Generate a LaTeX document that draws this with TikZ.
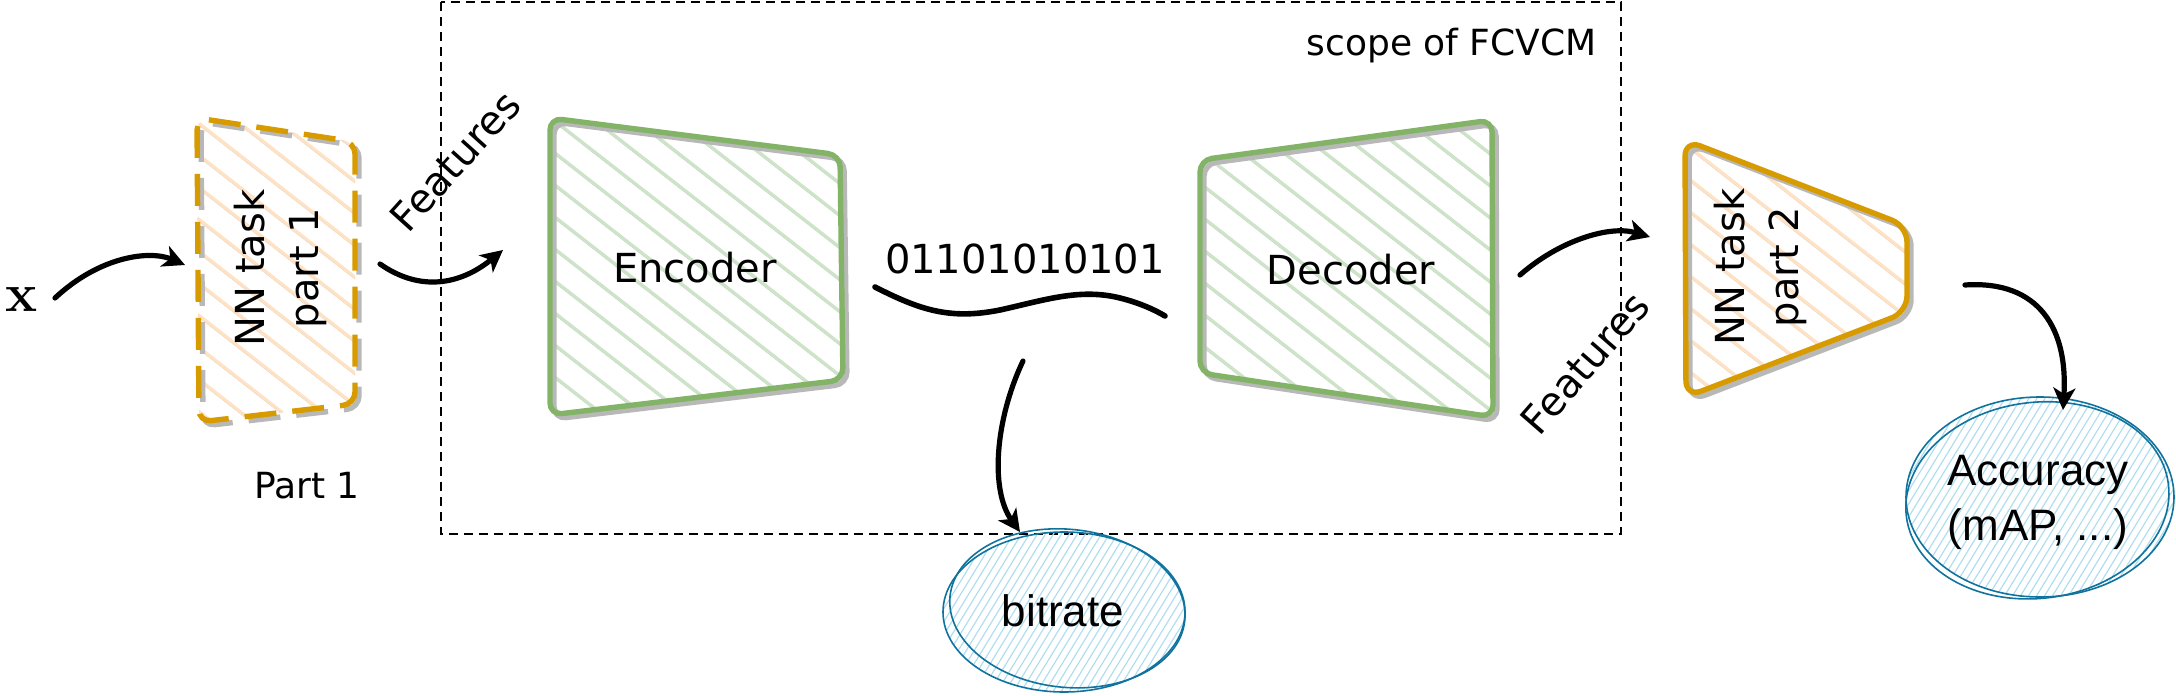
\documentclass[tikz,border=0pt]{standalone}
\usepackage{fontspec}
\newfontfamily\labelfont{DejaVu Sans}
\newfontfamily\ellfont{Liberation Sans}
\usetikzlibrary{arrows.meta,positioning}

\definecolor{encgreen}{RGB}{130,179,102}
\definecolor{encfill}{RGB}{205,228,200}
\definecolor{nnorange}{RGB}{215,155,0}
\definecolor{nnfill}{RGB}{255,225,195}
\definecolor{ellblue}{RGB}{16,115,158}
\definecolor{ellfill}{RGB}{177,221,240}
\definecolor{shadowgray}{RGB}{184,184,184}

\tikzset{
  lbl/.style={font=\labelfont\fontsize{20}{27}\selectfont, inner sep=0pt, align=center},
  smalllbl/.style={font=\labelfont\fontsize{18}{22}\selectfont, inner sep=0pt},
  elllbl/.style={font=\ellfont\fontsize{22}{27.5}\selectfont, inner sep=0pt, align=center},
  flow/.style={line width=2.6pt, line cap=round, -{Stealth[length=11pt,width=11pt,inset=3pt]}},
  boxshadow/.style={draw=shadowgray, line width=2.7pt, rounded corners=6pt},
  hatchshadow/.style={draw=shadowgray!85, line width=1pt},
  ellstroke/.style={draw=ellblue, line width=0.8pt},
}

% hatching of a box: #1 clip path, #2 colour, #3/#4 start of the first line
\newcommand{\hatchbox}[4]{%
  \begin{scope}
    \clip #1;
    \foreach \s in {-420,-379,...,320}
      {\draw[hatchshadow] (#3+\s+4,#4+4) -- ++(420,328);
       \draw[draw=#2, line width=1.6pt] (#3+\s,#4) -- ++(420,328);}
  \end{scope}}

\begin{document}
\begin{tikzpicture}[x=0.5pt,y=0.5pt,yscale=-1,xscale=1]
\useasboundingbox (0,0) rectangle (2176,696);

%Scope of FCVCM
\draw[line width=0.8pt, dash pattern=on 4.5pt off 3pt] (441,2) rectangle (1621,534);
\node[smalllbl, anchor=base east] (scopelbl) at (1597,55) {scope of FCVCM};

%NN task part 1
\hatchbox{[rounded corners=6pt] (197,118) -- (355,142) -- (355,404) -- (199,422) -- cycle}{nnfill}{197}{114}
\draw[boxshadow, dash pattern=on 16pt off 8pt] (201,122) -- (359,146) -- (359,408) -- (203,426) -- cycle;
\draw[draw=nnorange, line width=2.7pt, rounded corners=6pt, dash pattern=on 16pt off 8pt] (197,118) -- (355,142) -- (355,404) -- (199,422) -- cycle;
\node[lbl, rotate=90] (nn1) at (280,268) {NN task\\part 1};
\node[smalllbl] (part1) at (307,486) {Part 1};

%Encoder
\hatchbox{[rounded corners=6pt] (550,118) -- (840,155) -- (843,380) -- (550,415) -- cycle}{encfill}{556}{114}
\draw[boxshadow] (554,122) -- (844,159) -- (847,384) -- (554,419) -- cycle;
\draw[draw=encgreen, line width=2.7pt, rounded corners=6pt] (550,118) -- (840,155) -- (843,380) -- (550,415) -- cycle;
\node[lbl] (enc) at (695,268) {Encoder};

%Decoder
\hatchbox{[rounded corners=6pt] (1200,160) -- (1492,120) -- (1493,417) -- (1200,373) -- cycle}{encfill}{1206}{116}
\draw[boxshadow] (1204,164) -- (1496,124) -- (1497,421) -- (1204,377) -- cycle;
\draw[draw=encgreen, line width=2.7pt, rounded corners=6pt] (1200,160) -- (1492,120) -- (1493,417) -- (1200,373) -- cycle;
\node[lbl] (dec) at (1351,270) {Decoder};

%NN task part 2
\hatchbox{[rounded corners=8pt] (1685,140) -- (1907,226) -- (1907,312) -- (1686,397) -- cycle}{nnfill}{1685}{136}
\draw[boxshadow, rounded corners=8pt] (1689,144) -- (1911,230) -- (1911,316) -- (1690,401) -- cycle;
\draw[draw=nnorange, line width=2.7pt, rounded corners=8pt] (1685,140) -- (1907,226) -- (1907,312) -- (1686,397) -- cycle;
\node[lbl, rotate=90] (nn2) at (1760,267) {NN task\\part 2};

%Bit string
\node[lbl] (bits) at (1025,259) {01101010101};
\draw[line width=2.8pt, line cap=round] (875,287) .. controls (920,310) and (950,320) .. (1000,310) .. controls (1045,300) and (1080,288) .. (1120,298) .. controls (1140,303) and (1155,310) .. (1165,316);

%bitrate
\begin{scope}
  \clip (1064,612) ellipse [x radius=121, y radius=80];
  \foreach \s in {-240,-232,...,130}
    \draw[ellfill, line width=0.6pt] (1064+\s,700) -- ++(110,-180);
\end{scope}
\draw[ellstroke] (1064,612) ellipse [x radius=121, y radius=80];
\draw[ellstroke, rotate around={6:(1064,612)}] (1067,608) ellipse [x radius=118, y radius=79];
\node[elllbl] (bitrate) at (1063,611) {bitrate};

%Accuracy
\begin{scope}
  \clip (2040,497) ellipse [x radius=134, y radius=100];
  \foreach \s in {-270,-262,...,140}
    \draw[ellfill, line width=0.6pt] (2040+\s,600) -- ++(125,-205);
\end{scope}
\draw[ellstroke] (2040,497) ellipse [x radius=134, y radius=100];
\draw[ellstroke, rotate around={-7:(2040,497)}] (2037,500) ellipse [x radius=132, y radius=98];
\node[elllbl] (acc) at (2038,502) {Accuracy\\(mAP, ...)};

%Input
\node[font=\fontsize{27}{30}\selectfont\bfseries, inner sep=0pt] (xin) at (22,300) {x};

%Features labels
\node[lbl, rotate=48] (feat1) at (455,161) {Features};
\node[lbl, rotate=49] (feat2) at (1585,363) {Features};

%Connectors
\coordinate (xtail) at (55,298);
\coordinate (nn1in) at (185,265);
\coordinate (nn1out) at (380,264);
\coordinate (encin) at (503,250);
\coordinate (decout) at (1520,275);
\coordinate (nn2in) at (1650,237);
\coordinate (nn2out) at (1965,285);
\coordinate (accin) at (2063,410);
\coordinate (bitsout) at (1023,361);
\coordinate (bitratein) at (1020,532);

\draw[flow] (xtail) .. controls +(45,-42) and +(-35,-15) .. (nn1in);
\draw[flow] (nn1out) .. controls +(40,28) and +(-43,35) .. (encin);
\draw[flow] (decout) .. controls +(40,-35) and +(-40,-12) .. (nn2in);
\draw[flow] (nn2out) .. controls +(75,-5) and +(5,-80) .. (accin);
\draw[flow] (bitsout) .. controls +(-28,59) and +(-30,-42) .. (bitratein);

\end{tikzpicture}
\end{document}
